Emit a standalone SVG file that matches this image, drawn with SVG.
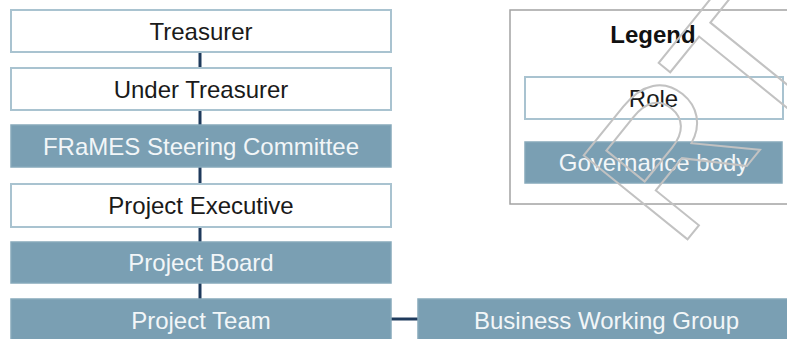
<svg xmlns="http://www.w3.org/2000/svg" width="787" height="339" viewBox="0 0 787 339">
  <style>
    .role rect { fill: #ffffff; stroke: #a9c3d0; stroke-width: 2; }
    .gov rect { fill: #7a9fb3; stroke: #86a9bb; stroke-width: 1.5; }
    .lbl { font-family: "Liberation Sans", Arial, sans-serif; font-size: 24px; text-anchor: middle; }
    .role text { fill: #1a1a1a; }
    .gov text { fill: #f2f6f8; }
    .link { stroke: #1f3a5c; stroke-width: 3; fill: none; }
    .mark { font-family: "Liberation Sans", Arial, sans-serif; font-size: 194px; fill: none; stroke: #c2c2c2; stroke-width: 2; }
  </style>
  <rect width="787" height="339" fill="#ffffff"/>

  <!-- connectors -->
  <g id="connectors">
    <line class="link" x1="200" y1="52" x2="200" y2="68"/>
    <line class="link" x1="200" y1="110" x2="200" y2="125"/>
    <line class="link" x1="200" y1="167" x2="200" y2="184"/>
    <line class="link" x1="200" y1="227" x2="200" y2="242"/>
    <line class="link" x1="200" y1="283" x2="200" y2="299"/>
    <line class="link" x1="391" y1="319" x2="418" y2="319"/>
  </g>

  <!-- hierarchy -->
  <g id="treasurer" class="role">
    <rect x="11" y="10" width="380" height="42"/>
    <text class="lbl" x="201" y="39.5">Treasurer</text>
  </g>
  <g id="under-treasurer" class="role">
    <rect x="11" y="68" width="380" height="42"/>
    <text class="lbl" x="201" y="97.5">Under Treasurer</text>
  </g>
  <g id="steering-committee" class="gov">
    <rect x="11" y="125" width="380" height="42"/>
    <text class="lbl" x="201" y="154.5">FRaMES Steering Committee</text>
  </g>
  <g id="project-executive" class="role">
    <rect x="11" y="184" width="380" height="43"/>
    <text class="lbl" x="201" y="214">Project Executive</text>
  </g>
  <g id="project-board" class="gov">
    <rect x="11" y="242" width="380" height="41"/>
    <text class="lbl" x="201" y="271">Project Board</text>
  </g>
  <g id="project-team" class="gov">
    <rect x="11" y="299" width="380" height="42"/>
    <text class="lbl" x="201" y="328.5">Project Team</text>
  </g>
  <g id="business-working-group" class="gov">
    <rect x="418" y="299" width="377" height="42"/>
    <text class="lbl" x="606.5" y="328.5">Business Working Group</text>
  </g>

  <!-- legend -->
  <g id="legend">
    <rect x="510" y="10" width="290" height="194" fill="#ffffff" stroke="#a3a3a3" stroke-width="1.5"/>
    <text class="lbl" x="653" y="42.5" font-weight="bold" fill="#111111">Legend</text>
    <g id="legend-role" class="role">
      <rect x="525" y="77" width="258" height="42"/>
      <text class="lbl" x="653.5" y="106.5">Role</text>
    </g>
    <g id="legend-governance" class="gov">
      <rect x="525" y="142" width="257" height="41"/>
      <text class="lbl" x="653.5" y="171">Governance body</text>
    </g>
  </g>

  <!-- outlined diagonal watermark lettering -->
  <g id="watermark">
    <text class="mark" transform="translate(677.6,251.7) rotate(-51)">R<tspan dx="-6">T</tspan></text>
  </g>
</svg>
